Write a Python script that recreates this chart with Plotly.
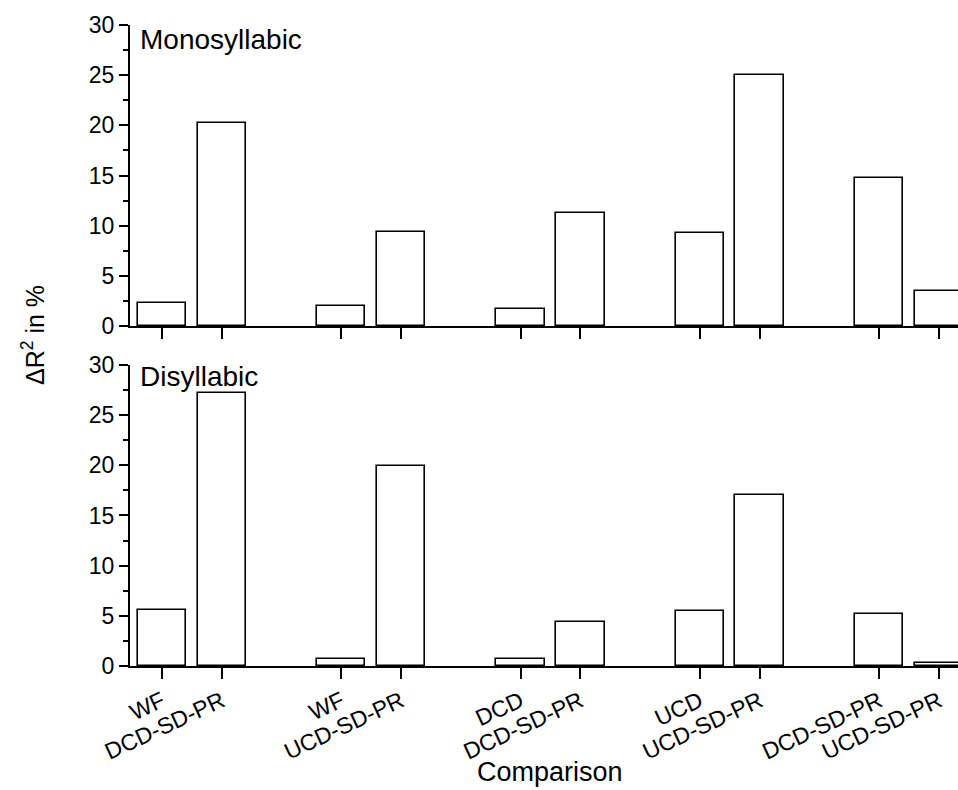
import plotly.graph_objects as go
from plotly.subplots import make_subplots

# Data
groups = 5
labels = ["WF", "DCD-SD-PR", "WF", "UCD-SD-PR", "DCD", "DCD-SD-PR",
          "UCD", "UCD-SD-PR", "DCD-SD-PR", "UCD-SD-PR"]
mono = [2.3, 20.2, 2.0, 9.4, 1.7, 11.3, 9.3, 25.0, 14.8, 3.5]
di = [5.6, 27.25, 0.7, 19.9, 0.7, 4.4, 5.5, 17.05, 5.15, 0.35]
panel_names = ["Monosyllabic", "Disyllabic"]

# bar positions: two bars per group, one empty slot between groups
xpos = [g * 3 + m for g in range(groups) for m in range(2)]

FONT = "Liberation Sans, Arial, sans-serif"

fig = make_subplots(rows=2, cols=1, vertical_spacing=0.0)

for row, vals in enumerate([mono, di], start=1):
    fig.add_trace(go.Bar(
        x=xpos, y=vals, width=0.81,
        marker=dict(color="white", line=dict(color="black", width=1.6)),
        showlegend=False,
    ), row=row, col=1)

common_x = dict(
    range=[-0.535, 13.32], tickmode="array", tickvals=xpos, ticktext=labels,
    showline=True, linecolor="black", linewidth=2, ticks="outside",
    ticklen=11, tickwidth=2, tickcolor="black", showgrid=False, zeroline=False,
    tickangle=-25, tickfont=dict(family=FONT, size=23, color="black"),
)
common_y = dict(
    range=[0, 30], dtick=5, tick0=0, showline=True, linecolor="black", linewidth=2,
    ticks="outside", ticklen=9, tickwidth=1.5, tickcolor="black",
    showgrid=False, zeroline=False,
    minor=dict(dtick=2.5, ticks="outside", ticklen=5, tickwidth=1.5, tickcolor="black", showgrid=False),
    tickfont=dict(family=FONT, size=23, color="black"),
)

fig.update_xaxes(**common_x)
fig.update_xaxes(showticklabels=False, row=1, col=1)
fig.update_yaxes(**common_y)

fig.update_layout(
    width=958, height=790,
    margin=dict(l=130, r=0, t=25, b=124),
    paper_bgcolor="white", plot_bgcolor="white",
    bargap=0,
    xaxis=dict(domain=[0, 1]),
    yaxis=dict(domain=[0.5304, 1.0]),
    yaxis2=dict(domain=[0.0, 0.4696]),
)

fig.add_annotation(text=panel_names[0], xref="x domain", yref="y domain",
                   x=0.010, y=0.953, xanchor="left", yanchor="middle", showarrow=False,
                   font=dict(family=FONT, size=28, color="black"))
fig.add_annotation(text=panel_names[1], xref="x2 domain", yref="y2 domain",
                   x=0.010, y=0.963, xanchor="left", yanchor="middle", showarrow=False,
                   font=dict(family=FONT, size=28, color="black"))

fig.add_annotation(text="Comparison", xref="paper", yref="paper",
                   x=(550 - 130) / 828, y=(666 - 772) / 641, xanchor="center", yanchor="middle",
                   showarrow=False, font=dict(family=FONT, size=27, color="black"))
fig.add_annotation(text="ΔR<sup>2</sup> in %", xref="paper", yref="paper",
                   x=(33 - 130) / 828, y=(666 - 335) / 641, xanchor="center", yanchor="middle",
                   textangle=-90, showarrow=False, font=dict(family=FONT, size=25, color="black"))

fig.write_html("out.html")
